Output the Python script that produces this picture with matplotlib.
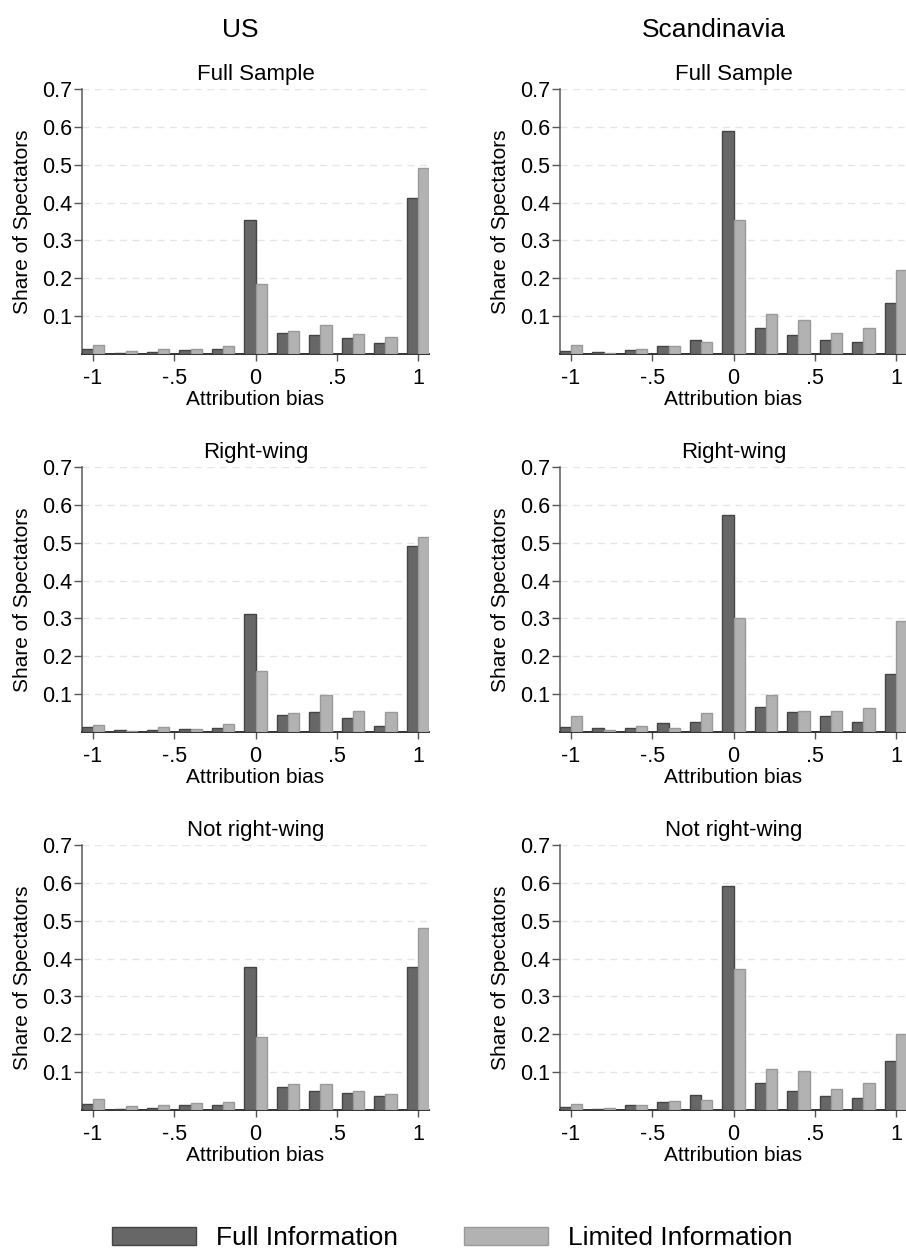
import matplotlib
matplotlib.use("Agg")
import matplotlib.pyplot as plt
import numpy as np

plt.rcParams['font.family'] = ['Liberation Sans', 'DejaVu Sans']

bias = np.array([-1, -0.8, -0.6, -0.4, -0.2, 0, 0.2, 0.4, 0.6, 0.8, 1])

us_full_fi = [0.014, 0.003, 0.004, 0.011, 0.012, 0.355, 0.056, 0.050, 0.042, 0.030, 0.413]
us_full_li = [0.025, 0.008, 0.013, 0.013, 0.021, 0.184, 0.061, 0.077, 0.053, 0.046, 0.491]
us_right_fi = [0.014, 0.004, 0.004, 0.009, 0.011, 0.311, 0.046, 0.054, 0.038, 0.017, 0.491]
us_right_li = [0.018, 0.003, 0.014, 0.009, 0.022, 0.162, 0.049, 0.097, 0.056, 0.054, 0.515]
us_notright_fi = [0.015, 0.002, 0.004, 0.012, 0.012, 0.378, 0.060, 0.049, 0.044, 0.036, 0.378]
us_notright_li = [0.028, 0.010, 0.012, 0.018, 0.020, 0.193, 0.068, 0.068, 0.049, 0.041, 0.482]

sc_full_fi = [0.008, 0.005, 0.011, 0.021, 0.037, 0.588, 0.069, 0.050, 0.037, 0.032, 0.135]
sc_full_li = [0.023, 0.003, 0.013, 0.021, 0.032, 0.355, 0.106, 0.091, 0.056, 0.069, 0.222]
sc_right_fi = [0.014, 0.011, 0.011, 0.025, 0.027, 0.573, 0.067, 0.054, 0.041, 0.027, 0.152]
sc_right_li = [0.043, 0.004, 0.017, 0.011, 0.049, 0.300, 0.099, 0.056, 0.056, 0.064, 0.292]
sc_notright_fi = [0.007, 0.002, 0.012, 0.020, 0.039, 0.592, 0.071, 0.049, 0.036, 0.031, 0.129]
sc_notright_li = [0.015, 0.004, 0.012, 0.023, 0.026, 0.372, 0.108, 0.102, 0.055, 0.071, 0.200]

columns = ["US", "Scandinavia"]
rows = ["Full Sample", "Right-wing", "Not right-wing"]
panels = [
    [(us_full_fi, us_full_li), (sc_full_fi, sc_full_li)],
    [(us_right_fi, us_right_li), (sc_right_fi, sc_right_li)],
    [(us_notright_fi, us_notright_li), (sc_notright_fi, sc_notright_li)],
]

dark = '#676767'
dark_edge = '#444444'
light = '#b2b2b2'
light_edge = '#9a9a9a'
w = 0.068

W, H = 906, 1253
fig = plt.figure(figsize=(W / 100, H / 100), dpi=100)

col_left = [82, 560]
col_width = 347
row_bottom = [354, 732, 1110]
row_height = 265

for r in range(3):
    for c in range(2):
        ax = fig.add_axes([col_left[c] / W, 1 - row_bottom[r] / H,
                           col_width / W, row_height / H])
        fi, li = panels[r][c]
        b1 = ax.bar(bias - w / 2, fi, width=w, color=dark, edgecolor=dark_edge,
                    linewidth=1, zorder=3)
        b2 = ax.bar(bias + w / 2, li, width=w, color=light, edgecolor=light_edge,
                    linewidth=1, zorder=3)
        ax.set_xlim(-1 - w, 1 + w)
        ax.set_ylim(0, 0.7)
        ax.set_yticks([0.1, 0.2, 0.3, 0.4, 0.5, 0.6, 0.7])
        ax.set_yticklabels(['0.1', '0.2', '0.3', '0.4', '0.5', '0.6', '0.7'])
        ax.set_xticks([-1, -0.5, 0, 0.5, 1])
        ax.set_xticklabels(['-1', '-.5', '0', '.5', '1'])
        ax.tick_params(axis='y', length=5.8, width=1, color='#555555', pad=1.5,
                       labelsize=15.5)
        ax.tick_params(axis='x', length=5, width=1, color='#555555', pad=5,
                       labelsize=15.5)
        ax.grid(axis='y', color='#e6e6e6', linestyle=(0, (5, 4)), linewidth=1,
                zorder=0)
        ax.spines['top'].set_visible(False)
        ax.spines['right'].set_visible(False)
        ax.spines['left'].set_color('#5a5a5a')
        ax.spines['bottom'].set_color('#222222')
        ax.spines['left'].set_linewidth(1.1)
        ax.spines['bottom'].set_linewidth(1.3)
        ax.set_title(rows[r], fontsize=16, pad=6.5)
        ax.set_xlabel('Attribution bias', fontsize=15, labelpad=1)
        ax.set_ylabel('Share of Spectators', fontsize=15)
        ax.yaxis.set_label_coords(-50 / col_width, 0.5)

fig.text(240 / W, 1 - 30 / H, columns[0], ha='center', va='center', fontsize=19)
fig.text(714 / W, 1 - 30 / H, columns[1], ha='center', va='center', fontsize=19)

fig.legend([b1, b2], ['Full Information', 'Limited Information'],
           loc='center', bbox_to_anchor=(452 / W, 1 - 1238 / H), ncol=2,
           frameon=False, fontsize=19, handlelength=3.2, handleheight=0.65,
           handletextpad=0.75, columnspacing=2.5)

fig.savefig('out.png', dpi=100)
